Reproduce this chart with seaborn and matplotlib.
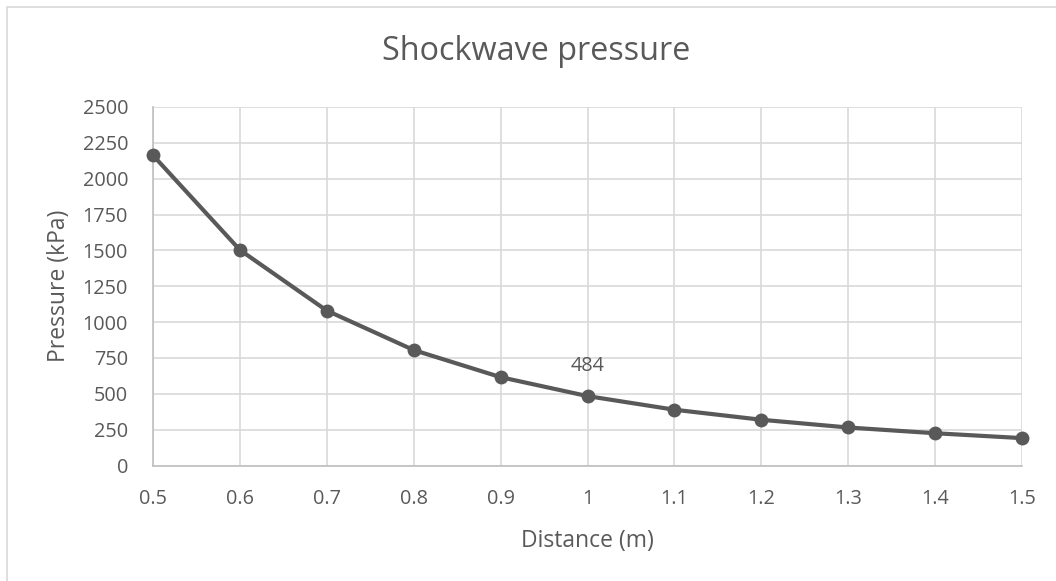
import matplotlib
matplotlib.use("Agg")
import matplotlib.pyplot as plt
import seaborn as sns
import pandas as pd
from matplotlib.patches import Rectangle

distance = [0.5, 0.6, 0.7, 0.8, 0.9, 1.0, 1.1, 1.2, 1.3, 1.4, 1.5]
pressure = [2163, 1503, 1080, 805, 616, 484, 389, 319, 265, 225, 191]
x_ticks = [0.5, 0.6, 0.7, 0.8, 0.9, 1.0, 1.1, 1.2, 1.3, 1.4, 1.5]
x_tick_labels = ["0.5", "0.6", "0.7", "0.8", "0.9", "1", "1.1", "1.2", "1.3", "1.4", "1.5"]
y_ticks = [0, 250, 500, 750, 1000, 1250, 1500, 1750, 2000, 2250, 2500]

sns.set_theme(style="white")
plt.rcParams['font.family'] = ['Open Sans', 'DejaVu Sans']

TXT = "#595959"
GRID = "#d9d9d9"

df = pd.DataFrame({"Distance": distance, "Pressure": pressure})

fig = plt.figure(figsize=(10.56, 5.81), dpi=100)
ax = fig.add_axes([153/1056, 1-465.5/581, (1022-153)/1056, (465.5-107)/581])

fig.patches.append(Rectangle((7/1056, -0.05), 1.2, 1-7/581+0.05, transform=fig.transFigure,
                             fill=False, edgecolor=GRID, linewidth=1.2))

sns.lineplot(data=df, x="Distance", y="Pressure", ax=ax, color=TXT, linewidth=3,
             marker="o", markersize=10, markeredgewidth=0, markeredgecolor=TXT, zorder=3, clip_on=False)

ax.set_xlim(0.5, 1.5)
ax.set_ylim(0, 2500)
ax.set_xticks(x_ticks)
ax.set_xticklabels(x_tick_labels)
ax.set_yticks(y_ticks)
ax.grid(True, color=GRID, linewidth=1.2)
ax.set_axisbelow(True)
for s in ["top", "right"]:
    ax.spines[s].set_visible(False)
for s in ["left", "bottom"]:
    ax.spines[s].set_color("#bfbfbf")
    ax.spines[s].set_linewidth(1.2)
ax.tick_params(axis="both", length=0, labelsize=14.3, labelcolor=TXT)
ax.tick_params(axis="y", pad=18)
ax.tick_params(axis="x", pad=17)

ax.set_xlabel("Distance (m)", fontsize=16.5, color=TXT, labelpad=14)
ax.set_ylabel("Pressure (kPa)", fontsize=16.5, color=TXT, labelpad=8)

fig.text(536/1056, 1-52/581, "Shockwave pressure", ha="center", va="center", fontsize=23.3, color=TXT)

ax.annotate("484", xy=(1.0, 484), xytext=(0, 22), textcoords="offset points",
            ha="center", va="center", fontsize=14.3, color=TXT)

fig.savefig("out.png", dpi=100, facecolor="white")
